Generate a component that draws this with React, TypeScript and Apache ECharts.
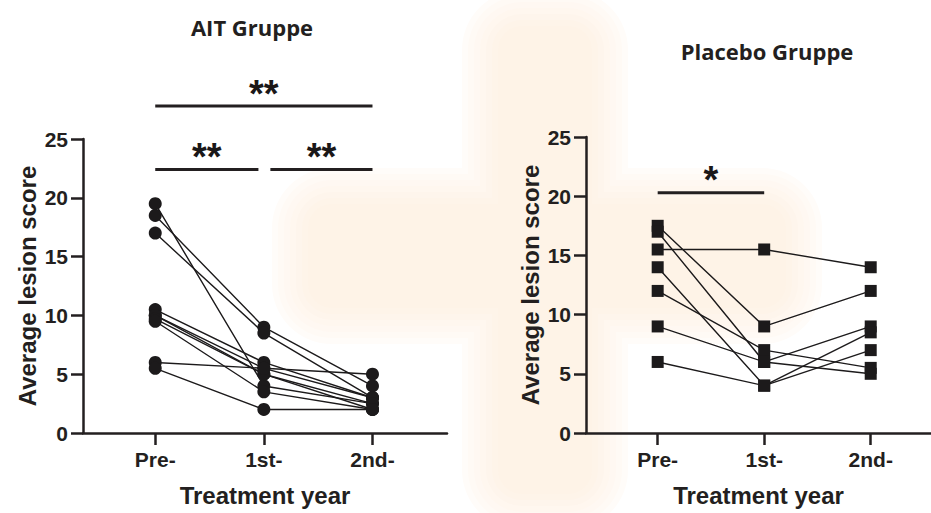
import React, { useEffect, useRef } from "react";
import * as echarts from "echarts";

const categories = ["Pre-", "1st-", "2nd-"];
const yTicks = [0, 5, 10, 15, 20, 25];

// AIT group: each index is one subject (Pre-, 1st-, 2nd-)
const aitPre = [19.5, 18.5, 17, 10.5, 10, 10, 9.7, 9.5, 6, 5.5];
const aitFirst = [4, 9, 8.5, 6, 5.5, 5, 5, 3.5, 5.5, 2];
const aitSecond = [2.5, 4, 3, 3, 3, 2.5, 2, 2, 5, 2];

// Placebo group
const placeboPre = [17.5, 17, 15.5, 14, 12, 9, 6];
const placeboFirst = [9, 6, 15.5, 4, 7, 6, 4];
const placeboSecond = [12, 9, 14, 8.5, 5.5, 5, 7];

// significance brackets
const aitSigFrom = [0, 1.06, 0];
const aitSigTo = [0.95, 2, 2];
const aitSigY = [22.4, 22.4, 27.8];
const aitSigLabel = ["**", "**", "**"];
const placeboSigFrom = [0];
const placeboSigTo = [1];
const placeboSigY = [20.3];
const placeboSigLabel = ["*"];

const INK = "#231f20";
const AX_FONT = "'Liberation Sans', Arial, sans-serif";

function subjectSeries(pre: number[], first: number[], second: number[], idx: number, symbol: string, size: number) {
  return pre.map((p, i) => ({
    type: "line",
    xAxisIndex: idx,
    yAxisIndex: idx,
    data: [[0, p], [1, first[i]], [2, second[i]]],
    symbol,
    symbolSize: size,
    showSymbol: true,
    itemStyle: { color: "#1c1a1b" },
    lineStyle: { color: "#1c1a1b", width: 1.4 },
    z: 3,
    silent: true,
  }));
}

function sigSeries(from: number[], to: number[], ys: number[], labels: string[], idx: number) {
  const out: any[] = [];
  from.forEach((f, i) => {
    out.push({
      type: "line",
      xAxisIndex: idx,
      yAxisIndex: idx,
      data: [[f, ys[i]], [to[i], ys[i]]],
      symbol: "none",
      clip: false,
      lineStyle: { color: INK, width: 3 },
      silent: true,
      z: 4,
    });
    out.push({
      type: "scatter",
      xAxisIndex: idx,
      yAxisIndex: idx,
      data: [[(f + to[i]) / 2, ys[i]]],
      symbolSize: 1,
      clip: false,
      itemStyle: { color: INK, opacity: 0 },
      label: {
        show: true,
        position: "top",
        distance: -7,
        formatter: labels[i],
        color: "#1a1718",
        opacity: 1,
        fontFamily: AX_FONT,
        fontWeight: "bold",
        fontSize: 38,
        lineHeight: 38,
      },
      silent: true,
      z: 4,
    });
  });
  return out;
}

function xAxis(idx: number, min: number, max: number) {
  return {
    type: "value",
    gridIndex: idx,
    min,
    max,
    name: "Treatment year",
    nameLocation: "middle",
    nameGap: 50,
    nameTextStyle: { color: INK, fontFamily: AX_FONT, fontWeight: "bold", fontSize: 24 },
    axisLine: { show: true, onZero: false, lineStyle: { color: INK, width: 2.5 } },
    axisTick: { show: true, customValues: [0, 1, 2], length: 12, lineStyle: { color: INK, width: 2.5 } },
    axisLabel: {
      show: true,
      customValues: [0, 1, 2],
      margin: 16,
      color: INK,
      fontFamily: AX_FONT,
      fontWeight: "bold",
      fontSize: 21,
      formatter: (v: number) => categories[Math.round(v)] ?? "",
    },
    splitLine: { show: false },
  };
}

function yAxis(idx: number) {
  return {
    type: "value",
    gridIndex: idx,
    min: yTicks[0],
    max: yTicks[yTicks.length - 1],
    interval: 5,
    name: "Average lesion score",
    nameLocation: "middle",
    nameGap: 44,
    nameRotate: 90,
    nameTextStyle: { color: INK, fontFamily: AX_FONT, fontWeight: "bold", fontSize: 24 },
    axisLine: { show: true, onZero: false, lineStyle: { color: INK, width: 2.5 } },
    axisTick: { show: true, length: 12, lineStyle: { color: INK, width: 2.5 } },
    axisLabel: { margin: 15, color: INK, fontFamily: AX_FONT, fontWeight: "bold", fontSize: 21 },
    splitLine: { show: false },
  };
}

// soft faint watermark (decorative background): opaque layers, outer to inner
const WM_COLORS = ["#fffcf9", "#fffaf5", "#fff8f2", "#fff7ef", "#fef5ec", "#fef4e9", "#fef3e7"];
const WM_RECTS = [
  [462, -10, 166, 540],
  [272, 168, 550, 176],
];

function watermark() {
  const out: any[] = [];
  WM_COLORS.forEach((c, k) => {
    const d = k * 6;
    WM_RECTS.forEach(([x, y, w, h]) => {
      out.push({
        type: "rect",
        z: -10,
        silent: true,
        shape: { x: x + d, y: y + d, width: w - 2 * d, height: h - 2 * d, r: Math.max(10, 60 - d) },
        style: { fill: c },
      });
    });
  });
  return out;
}

export default function App() {
  const ref = useRef<HTMLDivElement>(null);
  useEffect(() => {
    document.body.style.margin = "0";
    if (!ref.current) return;
    const chart = echarts.init(ref.current, null, { renderer: "svg" });
    const option: any = {
      animation: false,
      backgroundColor: "#ffffff",
      title: [
        {
          text: "AIT Gruppe",
          left: 247,
          top: 11,
          textAlign: "center",
          textStyle: { color: INK, fontFamily: "'Open Sans', Lato, sans-serif", fontWeight: "bold", fontSize: 22 },
        },
        {
          text: "Placebo Gruppe",
          left: 762,
          top: 35,
          textAlign: "center",
          textStyle: { color: INK, fontFamily: "'Open Sans', Lato, sans-serif", fontWeight: "bold", fontSize: 22 },
        },
      ],
      graphic: watermark(),
      grid: [
        { left: 83, top: 139, width: 364, height: 294 },
        { left: 586, top: 137, width: 345, height: 296 },
      ],
      xAxis: [xAxis(0, -0.665, 2.686), xAxis(1, -0.673, 2.566)],
      yAxis: [yAxis(0), yAxis(1)],
      series: [
        ...subjectSeries(aitPre, aitFirst, aitSecond, 0, "circle", 13),
        ...subjectSeries(placeboPre, placeboFirst, placeboSecond, 1, "rect", 12),
        ...sigSeries(aitSigFrom, aitSigTo, aitSigY, aitSigLabel, 0),
        ...sigSeries(placeboSigFrom, placeboSigTo, placeboSigY, placeboSigLabel, 1),
      ],
    };
    chart.setOption(option);
    return () => chart.dispose();
  }, []);
  return <div ref={ref} style={{ width: 931, height: 513 }} />;
}
